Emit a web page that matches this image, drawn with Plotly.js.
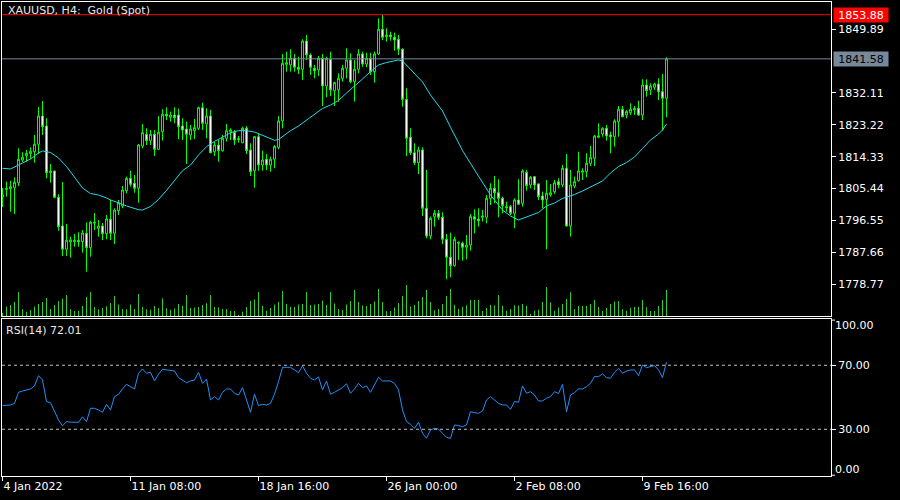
<!DOCTYPE html>
<html><head><meta charset="utf-8">
<script src="https://cdn.plot.ly/plotly-3.0.1.min.js"></script>
<style>html,body{margin:0;padding:0;background:#000;}#chart{width:900px;height:500px;}</style>
</head><body><div id="chart"></div>
<script>
const symbolTitle = "XAUUSD, H4:\u00a0 Gold (Spot)";
const rsiTitle = "RSI(14) 72.01";
const timeTickBars = [0, 32, 64, 96, 128, 160];
const timeTickLabels = ["4 Jan 2022", "11 Jan 08:00", "18 Jan 16:00", "26 Jan 00:00", "2 Feb 08:00", "9 Feb 16:00"];
const priceTicks = [1849.89, 1832.11, 1823.22, 1814.33, 1805.44, 1796.55, 1787.66, 1778.77];
const highLevel = 1853.88;
const lastPrice = 1841.58;
const rsiLevels = [70, 30];
const rsiScaleLabels = ["100.00", "0.00"];

const opens = [
1803.10,1805.19,1805.41,1805.69,1807.08,1813.40,1814.60,1815.16,1815.72,1817.78,
1825.66,1822.87,1809.86,1810.34,1803.01,1795.02,1788.53,1790.56,1790.65,1790.98,
1790.65,1792.98,1788.97,1796.05,1794.38,1795.02,1792.87,1796.89,1792.98,1799.28,
1800.59,1804.85,1808.30,1806.91,1805.52,1817.30,1820.56,1818.78,1820.56,1816.38,
1821.29,1826.13,1825.30,1825.94,1825.94,1822.87,1822.04,1820.37,1821.56,1822.23,
1827.97,1823.43,1825.66,1815.72,1817.58,1815.99,1819.45,1821.29,1821.12,1819.34,
1818.22,1822.23,1816.19,1810.42,1819.89,1812.01,1813.60,1812.01,1813.60,1816.94,
1824.27,1840.06,1839.86,1841.73,1839.22,1838.67,1846.55,1842.65,1838.94,1838.47,
1841.73,1834.01,1841.45,1832.71,1832.90,1836.16,1838.94,1841.26,1835.21,1838.67,
1842.93,1840.14,1841.73,1838.00,1842.93,1849.81,1847.75,1848.22,1847.58,1847.02,
1844.24,1830.31,1819.73,1815.43,1812.65,1816.19,1799.95,1792.23,1797.61,1798.55,
1797.44,1791.31,1786.30,1783.96,1790.20,1790.20,1789.08,1789.73,1797.61,1796.97,
1797.44,1797.44,1802.73,1805.52,1804.29,1802.73,1800.39,1800.39,1798.55,1802.26,
1801.34,1809.98,1806.44,1808.75,1806.72,1803.37,1802.46,1803.65,1804.57,1807.36,
1806.44,1811.09,1795.02,1806.16,1807.64,1809.98,1810.14,1812.48,1813.88,1819.73,
1820.64,1822.23,1820.37,1819.89,1824.07,1827.52,1825.94,1826.58,1827.33,1827.80,
1825.94,1834.29,1832.90,1833.65,1834.57,1832.43,1830.59];
const highs = [
1805.60,1807.36,1807.64,1808.58,1816.66,1815.55,1816.19,1816.94,1820.37,1828.17,
1829.84,1825.02,1812.29,1810.42,1803.85,1807.27,1795.57,1792.04,1792.79,1793.26,
1793.90,1796.05,1796.49,1798.64,1796.69,1795.85,1798.08,1802.26,1799.95,1802.26,
1806.16,1808.75,1810.42,1809.22,1817.86,1823.43,1822.23,1821.76,1821.76,1825.66,
1827.52,1828.08,1826.86,1828.08,1827.69,1825.02,1824.07,1823.15,1824.82,1828.25,
1829.36,1827.80,1827.33,1818.50,1818.97,1820.37,1823.43,1822.23,1821.76,1820.09,
1822.68,1822.87,1818.05,1820.09,1820.64,1815.99,1815.07,1814.32,1817.58,1825.66,
1842.93,1843.57,1844.24,1842.93,1842.18,1847.02,1848.22,1843.12,1839.86,1842.37,
1842.93,1842.18,1843.57,1835.21,1837.55,1839.86,1844.52,1843.12,1841.26,1844.24,
1843.57,1843.29,1843.29,1843.57,1852.87,1853.88,1850.09,1849.14,1848.86,1848.22,
1844.52,1833.37,1822.23,1818.05,1817.11,1816.94,1810.62,1797.61,1799.47,1799.47,
1798.83,1792.79,1793.15,1792.04,1790.65,1790.65,1792.51,1798.36,1799.67,1799.95,
1799.47,1803.65,1806.91,1808.95,1808.03,1803.18,1801.79,1800.87,1802.73,1808.03,
1810.81,1810.62,1808.95,1808.95,1806.91,1804.57,1807.83,1806.72,1807.83,1808.30,
1812.01,1815.07,1810.62,1808.75,1815.71,1811.09,1815.27,1817.30,1820.37,1823.62,
1822.51,1823.15,1821.29,1824.74,1828.44,1828.44,1827.33,1829.20,1828.44,1829.92,
1835.88,1835.88,1834.77,1834.93,1836.16,1837.36,1842.01];
const lows = [
1800.31,1803.18,1799.00,1798.36,1806.16,1812.84,1812.93,1813.68,1812.65,1815.07,
1820.37,1808.30,1807.08,1802.73,1793.71,1786.66,1786.66,1786.19,1789.25,1789.25,
1787.58,1782.29,1786.47,1793.90,1792.04,1791.12,1791.31,1791.12,1790.00,1798.08,
1799.95,1804.13,1805.96,1804.29,1801.51,1816.66,1817.58,1817.58,1814.52,1816.19,
1818.78,1824.54,1824.07,1823.62,1819.17,1818.97,1812.29,1818.97,1819.17,1821.76,
1821.76,1819.45,1815.27,1814.52,1812.93,1815.72,1818.50,1818.97,1817.58,1818.22,
1818.05,1815.07,1808.95,1805.69,1810.42,1810.42,1810.62,1810.14,1811.09,1816.38,
1822.23,1838.00,1838.00,1838.00,1837.36,1835.69,1841.26,1837.08,1836.16,1836.80,
1828.44,1830.87,1831.23,1828.44,1829.64,1835.21,1836.16,1834.77,1829.64,1837.55,
1839.39,1839.22,1837.08,1834.93,1842.65,1846.83,1846.35,1846.63,1843.85,1842.65,
1828.25,1814.52,1814.79,1812.01,1809.50,1797.80,1791.59,1791.31,1794.82,1796.69,
1790.00,1780.17,1780.73,1783.68,1785.55,1785.35,1785.74,1788.14,1792.98,1794.82,
1796.22,1795.77,1800.87,1801.34,1797.44,1798.55,1799.00,1798.08,1794.38,1800.87,
1800.39,1804.85,1805.52,1805.05,1802.26,1799.95,1788.53,1803.18,1803.93,1805.52,
1805.80,1794.82,1792.04,1805.52,1807.36,1807.83,1808.58,1811.73,1811.73,1819.45,
1819.89,1818.78,1815.27,1817.11,1819.89,1825.30,1825.02,1825.94,1825.94,1825.66,
1824.54,1831.03,1831.51,1832.90,1830.11,1821.56,1825.30];
const closes = [
1803.65,1805.46,1805.96,1807.19,1813.60,1814.15,1815.27,1815.83,1817.78,1825.66,
1822.68,1809.86,1810.34,1803.01,1794.82,1788.53,1791.03,1791.12,1791.03,1790.65,
1793.07,1788.97,1796.05,1795.85,1795.02,1792.87,1796.97,1792.98,1799.47,1801.51,
1805.05,1808.30,1806.63,1805.52,1817.58,1821.01,1818.78,1820.56,1816.38,1821.12,
1826.13,1825.66,1825.94,1825.18,1822.68,1821.76,1820.56,1822.04,1822.40,1827.97,
1823.62,1825.66,1815.43,1817.58,1815.99,1819.45,1821.56,1821.76,1818.97,1819.17,
1822.23,1815.99,1810.14,1819.89,1812.01,1813.40,1812.01,1813.60,1817.11,1824.27,
1840.34,1840.50,1841.73,1839.22,1838.67,1846.55,1842.65,1839.22,1838.28,1841.73,
1834.01,1841.73,1832.90,1834.93,1836.16,1838.94,1841.26,1835.21,1838.67,1842.93,
1840.14,1841.73,1838.00,1842.93,1849.81,1847.58,1848.22,1847.75,1846.83,1844.24,
1830.31,1819.45,1815.43,1812.65,1816.19,1799.95,1792.23,1797.16,1798.55,1797.44,
1791.31,1786.30,1783.96,1791.31,1790.48,1789.08,1789.73,1797.61,1796.89,1796.49,
1797.80,1802.73,1805.52,1804.29,1802.73,1800.67,1800.12,1798.55,1802.26,1801.06,
1810.34,1806.24,1808.58,1806.44,1803.18,1802.26,1804.13,1804.29,1807.08,1806.44,
1811.09,1795.02,1806.44,1807.36,1810.34,1810.34,1812.48,1814.04,1820.09,1820.09,
1822.23,1820.09,1819.89,1824.27,1827.52,1825.46,1826.86,1827.52,1827.80,1825.94,
1834.29,1832.71,1834.01,1834.57,1832.43,1830.59,1841.58];
const volumes = [
6000,18600,22000,28000,48000,14000,8600,12000,19000,24000,
28000,36000,14000,22000,30000,35000,42000,14000,10000,10600,
20000,38000,48000,18000,13400,16000,19400,26000,40000,23000,
14000,13400,23000,14000,44000,18000,13400,12600,20000,16000,
35400,15400,12600,15000,24000,20000,42000,16000,17000,18000,
22000,25400,42000,18000,17000,14000,14000,10000,10000,2000,
8600,18000,30000,33000,48000,20000,10600,16000,23000,28000,
50000,24000,18600,18000,23000,24000,48000,22000,23000,24000,
31000,22000,48000,25000,14000,12000,23000,30000,52000,28000,
21000,20000,24000,29000,54000,28000,9400,10000,17000,26000,
40000,62000,19000,22000,30000,38000,52000,28000,11400,14000,
24000,40000,54000,22600,14600,18600,21400,32000,32000,32000,
10000,16000,22000,21000,42000,20000,10600,14000,21400,21000,
24000,20000,4000,10600,12600,28000,58000,27400,10600,17000,
24000,34000,47400,14000,20000,20000,20000,24000,32000,18000,
10000,16000,24000,29000,30000,14000,10400,16400,18000,18600,
32000,17400,10000,10000,20000,32000,52000];
const maBars = [0,2,4,7,9,10,12,14,16,18,19,20,22,24,26,27,29,31,34,35,
37,39,41,43,45,47,49,51,53,55,57,59,61,63,65,67,68,69,70,72,
74,76,78,80,82,84,86,88,90,92,94,96,98,99,100,102,104,105,107,109,
110,112,115,117,120,122,125,127,129,131,134,136,138,140,143,145,148,150,152,154,
156,158,160,162,164,165,166];
const maValues = [1811.09,1810.90,1812.00,1813.68,1815.35,1815.91,1815.49,1813.96,1811.59,1808.53,
1807.00,1805.60,1804.07,1803.65,1802.82,1802.26,1801.48,1800.59,1799.56,1799.47,
1800.45,1802.40,1804.91,1807.69,1810.42,1812.00,1814.80,1817.10,1818.60,1819.73,
1821.00,1821.56,1821.56,1821.20,1820.23,1819.25,1818.89,1819.11,1819.95,1821.56,
1822.87,1824.54,1826.13,1827.75,1828.72,1829.98,1832.06,1834.15,1835.97,1838.00,
1839.86,1840.56,1841.17,1841.26,1840.98,1838.67,1836.52,1835.13,1831.51,1828.72,
1827.05,1822.51,1816.05,1812.43,1807.28,1803.65,1799.47,1797.80,1796.69,1797.44,
1798.78,1800.59,1801.42,1802.68,1803.79,1804.77,1806.44,1807.55,1809.78,1811.59,
1812.70,1814.24,1816.60,1818.97,1820.64,1821.76,1823.43];
const rsiValues = [
44.8,45.0,45.2,46.2,53.1,53.9,54.6,55.2,57.1,63.5,
60.8,47.3,46.6,41.0,35.8,32.1,34.8,34.4,34.4,34.4,
37.7,34.8,43.1,43.1,42.1,40.6,45.6,42.1,50.4,51.9,
55.2,58.1,56.6,55.2,65.0,67.7,65.0,65.6,60.2,64.4,
67.5,67.1,66.7,66.4,62.3,60.8,59.1,60.2,60.8,65.6,
58.7,61.4,48.3,50.4,48.3,53.1,55.2,55.2,52.5,51.4,
56.0,48.3,40.6,51.9,44.8,45.6,45.2,46.2,51.9,59.8,
68.7,68.7,68.7,67.1,65.4,69.6,65.0,61.9,60.8,62.7,
54.6,60.2,51.9,53.1,54.6,56.0,58.5,52.5,55.2,58.7,
56.0,57.1,53.1,57.7,62.5,60.2,60.2,60.2,58.7,54.6,
42.1,34.8,33.1,30.6,34.4,27.5,24.4,29.6,30.6,30.2,
27.5,25.0,24.3,32.7,32.3,31.6,32.7,41.0,40.4,40.0,
41.4,48.3,50.4,48.3,46.2,45.2,45.2,42.5,47.3,46.9,
57.1,52.5,53.5,51.4,47.7,47.7,49.4,50.4,53.5,52.3,
58.1,41.0,51.4,52.9,55.2,55.2,56.6,58.7,62.9,62.9,
64.6,62.3,61.9,65.6,68.1,65.0,66.4,67.1,67.1,63.5,
70.2,68.5,69.1,69.8,67.1,62.3,72.01];

const bars = opens.map((_, i) => i);
const FONT = "DejaVu Sans, Verdana, sans-serif";
const WHITE = "#ffffff";
const LIME = "#00ff00";

const traces = [
  {type: "bar", x: bars, y: volumes, xaxis: "x", yaxis: "y2", width: 0.25,
   marker: {color: "#32cd32", line: {width: 0}}, hoverinfo: "skip"},
  {type: "candlestick", x: bars, open: opens, high: highs, low: lows, close: closes,
   xaxis: "x", yaxis: "y", whiskerwidth: 0,
   increasing: {line: {color: LIME, width: 1}, fillcolor: "#000000"},
   decreasing: {line: {color: LIME, width: 1}, fillcolor: "#ffffff"},
   hoverinfo: "skip"},
  {type: "scatter", mode: "lines", x: maBars, y: maValues, xaxis: "x", yaxis: "y",
   line: {color: "#20dcea", width: 1}, hoverinfo: "skip"},
  {type: "scatter", mode: "lines", x: bars, y: rsiValues, xaxis: "x2", yaxis: "y3",
   line: {color: "#1e90ff", width: 1}, hoverinfo: "skip"}
];

const xRange = [-0.125, 207.125];
const axisCommon = {showline: true, mirror: true, linecolor: WHITE, linewidth: 1,
  showgrid: false, zeroline: false, fixedrange: true};

const layout = {
  width: 900, height: 500,
  paper_bgcolor: "#000000", plot_bgcolor: "#000000",
  margin: {l: 2, r: 69, t: 2, b: 24, pad: 0},
  showlegend: false, hovermode: false,
  font: {family: FONT, size: 11, color: WHITE},
  xaxis: Object.assign({}, axisCommon, {domain: [0, 1], range: xRange, anchor: "y",
    showticklabels: false, ticks: "", rangeslider: {visible: false}}),
  yaxis: Object.assign({}, axisCommon, {domain: [0.3376, 1], range: [1769.95, 1857.41],
    side: "right", anchor: "x", tickvals: priceTicks, ticktext: priceTicks.map(v => v.toFixed(2)),
    ticks: "outside", ticklen: 4, tickcolor: WHITE, tickwidth: 1,
    tickfont: {family: FONT, size: 11, color: WHITE}}),
  yaxis2: {overlaying: "y", anchor: "x", range: [0, 628000], visible: false, fixedrange: true},
  xaxis2: Object.assign({}, axisCommon, {domain: [0, 1], range: xRange, anchor: "y3",
    tickvals: timeTickBars, ticktext: timeTickLabels, ticks: "outside", ticklen: 4,
    tickcolor: WHITE, tickwidth: 1, ticklabelposition: "outside right",
    tickfont: {family: FONT, size: 11, color: WHITE}}),
  yaxis3: Object.assign({}, axisCommon, {domain: [0, 0.3312], range: [0.8, 98.9],
    side: "right", anchor: "x2", tickvals: rsiLevels, ticktext: rsiLevels.map(v => v.toFixed(2)),
    ticks: "outside", ticklen: 4, tickcolor: WHITE, tickwidth: 1,
    tickfont: {family: FONT, size: 11, color: WHITE}}),
  shapes: [
    {type: "line", xref: "paper", x0: 0, x1: 1, yref: "y", y0: highLevel, y1: highLevel,
     line: {color: "#ff0000", width: 1}},
    {type: "line", xref: "paper", x0: 0, x1: 1, yref: "y", y0: lastPrice, y1: lastPrice,
     line: {color: "#778899", width: 1}},
    ...rsiLevels.map(v => ({type: "line", xref: "paper", x0: 0, x1: 1, yref: "y3", y0: v, y1: v,
     line: {color: "#c0c0c0", width: 1, dash: "3px,3px"}})),
    {type: "line", xref: "paper", x0: 1, x1: 1 + 4 / 829, yref: "y3 domain", y0: 0.993, y1: 0.993,
     line: {color: WHITE, width: 1}},
    {type: "line", xref: "paper", x0: 1, x1: 1 + 4 / 829, yref: "y3 domain", y0: 0.005, y1: 0.005,
     line: {color: WHITE, width: 1}}
  ],
  annotations: [
    {text: symbolTitle, xref: "paper", yref: "paper", x: 0, y: 1, xanchor: "left", yanchor: "top",
     xshift: 4, yshift: 0, showarrow: false, font: {family: FONT, size: 11, color: "#e8e8e8"}},
    {text: rsiTitle, xref: "paper", yref: "paper", x: 0, y: 0.3312, xanchor: "left", yanchor: "top",
     xshift: 2, yshift: -3, showarrow: false, font: {family: FONT, size: 11, color: "#e8e8e8"}},
    {text: highLevel.toFixed(2), xref: "paper", x: 1, xanchor: "left", xshift: 2, yref: "y", y: highLevel,
     yanchor: "middle", showarrow: false, bgcolor: "#ff0000", width: 52, height: 12, borderpad: 1,
     align: "center", font: {family: FONT, size: 11, color: WHITE}},
    {text: lastPrice.toFixed(2), xref: "paper", x: 1, xanchor: "left", xshift: 2, yref: "y", y: lastPrice,
     yanchor: "middle", showarrow: false, bgcolor: "#778899", width: 52, height: 12, borderpad: 1,
     align: "center", font: {family: FONT, size: 11, color: "#000000"}},
    {text: rsiScaleLabels[0], xref: "paper", x: 1, xanchor: "left", xshift: 2, yref: "paper", y: 0.3312,
     yanchor: "middle", yshift: -6, showarrow: false, font: {family: FONT, size: 11, color: WHITE}},
    {text: rsiScaleLabels[1], xref: "paper", x: 1, xanchor: "left", xshift: 2, yref: "paper", y: 0,
     yanchor: "middle", yshift: 7, showarrow: false, font: {family: FONT, size: 11, color: WHITE}}
  ]
};

Plotly.newPlot("chart", traces, layout, {staticPlot: true, displayModeBar: false});
</script>
</body></html>
